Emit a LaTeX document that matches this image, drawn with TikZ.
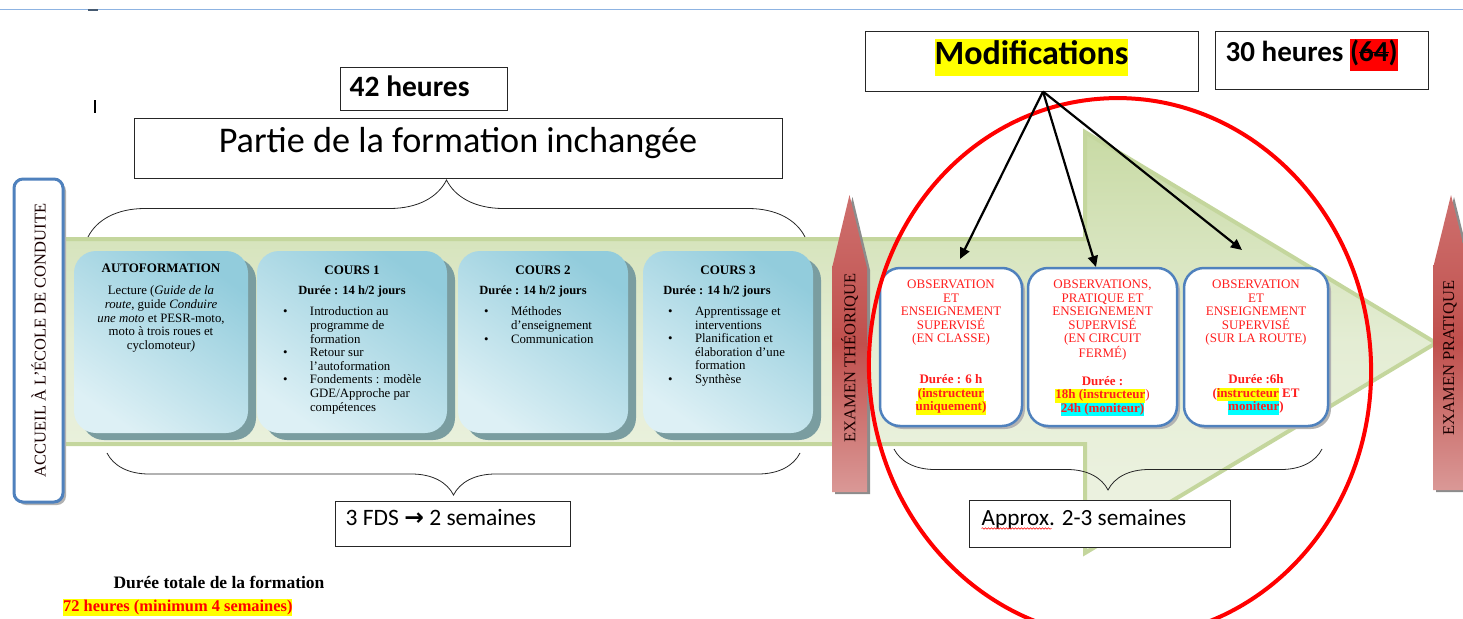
\documentclass[tikz,border=0pt]{standalone}
\usepackage{fontspec}
\setmainfont{Liberation Serif}
\newfontfamily\calibri{Carlito}
\newfontfamily\symfont{DejaVu Sans}
\usetikzlibrary{positioning,shadows,arrows.meta,decorations.pathreplacing,decorations.pathmorphing}
\definecolor{lineblue}{RGB}{141,179,226}
\definecolor{frameblue}{RGB}{79,129,189}
\definecolor{celldark}{RGB}{146,204,220}
\definecolor{celllight}{RGB}{221,240,245}
\definecolor{cellshadow}{RGB}{122,157,160}
\definecolor{greentop}{RGB}{200,218,164}
\definecolor{greenmid}{RGB}{228,237,212}
\definecolor{greenbot}{RGB}{238,243,227}
\definecolor{greenedge}{RGB}{196,214,157}
\definecolor{examtop}{RGB}{206,112,110}
\definecolor{exammid}{RGB}{192,80,77}
\definecolor{exambot}{RGB}{218,152,150}
\definecolor{obsred}{RGB}{255,30,30}
\definecolor{hlyellow}{RGB}{255,255,0}
\definecolor{hlcyan}{RGB}{0,255,255}
\definecolor{hlred}{RGB}{255,0,0}
\newcommand\hly[1]{{\setlength\fboxsep{0pt}\colorbox{hlyellow}{\strut #1}}}
\newcommand\hlc[1]{{\setlength\fboxsep{0pt}\colorbox{hlcyan}{\strut #1}}}
\newcommand\bul{\makebox[27pt][l]{•}}
\newcommand\ind{\makebox[27pt]{}}
\newcommand\strk[1]{\setbox0\hbox{#1}\rlap{\rule[0.3em]{\wd0}{1.3pt}}\box0}
\begin{document}
\begin{tikzpicture}[x=1pt,y=1pt]
\tikzstyle{every node}+=[inner sep=0pt]
\tikzstyle{cell}=[rounded corners=22pt, minimum height=182pt, top color=celldark, bottom color=celllight, shading angle=-35, drop shadow={shadow xshift=8pt, shadow yshift=-7pt, fill=cellshadow, opacity=1}]
\tikzstyle{celltitle}=[font=\bfseries\fontsize{13}{14}\selectfont]
\tikzstyle{celldur}=[font=\bfseries\fontsize{12.5}{14}\selectfont]
\tikzstyle{cellbody}=[font=\fontsize{12.8}{13.6}\selectfont]
\tikzstyle{frame}=[draw=frameblue, line width=3pt, fill=white, drop shadow={shadow xshift=3pt, shadow yshift=-3pt, fill=black!30, opacity=1}]
\tikzstyle{obsbox}=[frame, line width=2.5pt, rounded corners=20pt, minimum height=158pt]
\tikzstyle{obstext}=[font=\fontsize{13}{13.6}\selectfont, text=obsred, align=center]
\tikzstyle{examtext}=[font=\fontsize{16.5}{18}\selectfont, text=black!90!red, rotate=90]
\tikzstyle{examshape}=[top color=examtop, bottom color=exambot, middle color=exammid, drop shadow={shadow xshift=3pt, shadow yshift=-2pt, fill=black!45, opacity=1}]
\tikzstyle{tbox}=[draw=black!85, line width=1pt, fill=white]
\tikzstyle{curly}=[draw=black!85, line width=0.8pt, decorate]
\tikzstyle{modarrow}=[line width=2.2pt, -{Triangle[length=11pt,width=10pt]}]
\useasboundingbox (0,0) rectangle (1463,-618);
\draw [lineblue, line width=1pt] (0,-10) -- (1463,-10);
\draw [black!50!lineblue, line width=1.5pt] (88,-10) -- (98,-10);
\draw [line width=1.2pt] (95,-100) -- (95,-113);
\draw [greenedge, line width=4pt, top color=greentop, bottom color=greenbot, middle color=greenmid] (60,-239) -- (1085,-239) -- (1085,-132) -- (1436,-343) -- (1085,-553) -- (1085,-444) -- (60,-444) -- cycle;
\draw [curly, decoration={brace, amplitude=57pt}] (88,-237) -- (805,-237);
\draw [curly, decoration={brace, amplitude=42pt}] (800,-453) -- (107,-453);
\draw [curly, decoration={brace, amplitude=41pt}] (1322,-449) -- (894,-449);
\node [frame, rounded corners=9pt, minimum width=49pt, minimum height=323pt] (accueil) at (38.5,-340.5) {};
\node [examtext] (accueiltxt) at (accueil) {ACCUEIL À L’ÉCOLE DE CONDUITE};
\node [cell, minimum width=174pt] (auto) at (161,-342) {};
\node [cell, minimum width=190pt] (cours1) at (352,-342) {};
\node [cell, minimum width=170pt] (cours2) at (543,-342) {};
\node [cell, minimum width=170pt] (cours3) at (728,-342) {};
\node [celltitle, anchor=base] (autotitle) at ([yshift=-22pt]auto.north) {AUTOFORMATION};
\node [cellbody, anchor=north, align=center] (autobody) at ([yshift=-35pt]auto.north) {Lecture (\textit{Guide de la}\\\textit{route}, guide \textit{Conduire}\\\textit{une moto} et PESR-moto,\\moto à trois roues et\\cyclomoteur\textit{)}};
\node [celltitle, anchor=base] (c1title) at ([yshift=-24pt]cours1.north) {COURS 1};
\node [celldur, anchor=base] (c1dur) at ([yshift=-44pt]cours1.north) {Durée : 14 h/2 jours};
\node [cellbody, anchor=north west, align=left] (c1list) at ([xshift=26pt,yshift=-56pt]cours1.north west) {\bul Introduction au\\\ind programme de\\\ind formation\\\bul Retour sur\\\ind l’autoformation\\\bul Fondements : modèle\\\ind GDE/Approche par\\\ind compétences};
\node [celltitle, anchor=base] (c2title) at ([yshift=-24pt]cours2.north) {COURS 2};
\node [celldur, anchor=base] (c2dur) at ([xshift=-10pt,yshift=-44pt]cours2.north) {Durée : 14 h/2 jours};
\node [cellbody, anchor=north west, align=left] (c2list) at ([xshift=26pt,yshift=-56pt]cours2.north west) {\bul Méthodes\\\ind d’enseignement\\\bul Communication};
\node [celltitle, anchor=base] (c3title) at ([yshift=-24pt]cours3.north) {COURS 3};
\node [celldur, anchor=base] (c3dur) at ([xshift=-11pt,yshift=-44pt]cours3.north) {Durée : 14 h/2 jours};
\node [cellbody, anchor=north west, align=left] (c3list) at ([xshift=25pt,yshift=-56pt]cours3.north west) {\bul Apprentissage et\\\ind interventions\\\bul Planification et\\\ind élaboration d’une\\\ind formation\\\bul Synthèse};
\path [examshape] (832,-492) -- (832,-268) -- (849.5,-195) -- (867,-268) -- (867,-492) -- cycle;
\node [examtext] (theory) at (849.5,-358) {EXAMEN THÉORIQUE};
\path [examshape] (1433,-490) -- (1433,-268) -- (1451,-195) -- (1469,-268) -- (1469,-490) -- cycle;
\node [examtext] (practice) at (1450,-358) {EXAMEN PRATIQUE};
\node [obsbox, minimum width=142pt] (obs1) at (951,-347) {};
\node [obsbox, minimum width=149pt] (obs2) at (1102.5,-347) {};
\node [obsbox, minimum width=144pt] (obs3) at (1256,-347) {};
\node [obstext, anchor=north] (obs1txt) at ([yshift=-13pt]obs1.north) {OBSERVATION\\ET\\ENSEIGNEMENT\\SUPERVISÉ\\(EN CLASSE)\\[27.2pt]\textbf{Durée : 6 h}\\\textbf{\hly{(instructeur}}\\\textbf{\hly{uniquement)}}};
\node [obstext, anchor=north] (obs2txt) at ([yshift=-13pt]obs2.north) {OBSERVATIONS,\\PRATIQUE ET\\ENSEIGNEMENT\\SUPERVISÉ\\(EN CIRCUIT\\FERMÉ)\\[13.6pt]\textbf{Durée :}\\\textbf{\hly{18h (instructeur}})\\\textbf{\hlc{24h (moniteur)}}};
\node [obstext, anchor=north] (obs3txt) at ([yshift=-13pt]obs3.north) {OBSERVATION\\ET\\ENSEIGNEMENT\\SUPERVISÉ\\(SUR LA ROUTE)\\[27.2pt]\textbf{Durée :6h}\\\textbf{(\hly{instructeur} ET}\\\textbf{\hlc{moniteur})}};
\draw [red, line width=4pt, rotate around={4:(1120,-368)}] (1120,-368) ellipse [x radius=251, y radius=270];
\node [tbox, minimum width=167pt, minimum height=43pt] (h42) at (423.5,-88.5) {};
\node [anchor=base west, font=\calibri\bfseries\fontsize{29.5}{34}\selectfont] (h42txt) at ([xshift=10pt,yshift=-30pt]h42.north west) {42 heures};
\node [tbox, minimum width=648pt, minimum height=60pt] (partie) at (458,-148) {};
\node [anchor=base, font=\calibri\fontsize{36.2}{42}\selectfont] (partietxt) at ([yshift=-35pt]partie.north) {Partie de la formation inchangée};
\node [tbox, minimum width=333pt, minimum height=59pt] (modif) at (1031.5,-61.5) {};
\node [anchor=base, font=\calibri\bfseries\fontsize{34}{37}\selectfont] (modiftxt) at ([yshift=-33pt]modif.north) {\hly{Modifications}};
\node [tbox, minimum width=213pt, minimum height=57pt] (h30) at (1321.5,-60.5) {};
\node [anchor=base west, font=\calibri\bfseries\fontsize{29}{32}\selectfont] (h30txt) at ([xshift=11pt,yshift=-30pt]h30.north west) {30 heures {\setlength\fboxsep{0pt}\colorbox{hlred}{\strut(\strk{64})}}};
\node [tbox, minimum width=235pt, minimum height=45pt] (fds) at (452.5,-523.5) {};
\node [anchor=base west, font=\calibri\fontsize{23.5}{26}\selectfont] (fdstxt) at ([xshift=11pt,yshift=-25pt]fds.north west) {3 FDS {\symfont\bfseries →} 2 semaines};
\node [tbox, minimum width=261pt, minimum height=47pt] (approx) at (1099.5,-523.5) {};
\node [anchor=base west, font=\calibri\fontsize{23.2}{26}\selectfont] (approxtxt) at ([xshift=13pt,yshift=-26pt]approx.north west) {Approx. 2-3 semaines};
\draw [red, line width=0.5pt, decorate, decoration={snake, amplitude=0.8pt, segment length=3pt}] ([yshift=-3pt]approxtxt.base west) -- ++(70,0);
\node [anchor=base, font=\bfseries\fontsize{17.5}{20}\selectfont] (total) at (219,-588) {Durée totale de la formation};
\node [anchor=base west, font=\bfseries\fontsize{16.4}{17}\selectfont, text=red] (totalh) at (63,-611) {\hly{72 heures (minimum 4 semaines)}};
\coordinate (fork) at ([xshift=11.5pt]modif.south);
\coordinate (tip1) at (960,-259);
\coordinate (tip2) at (1096,-267);
\coordinate (tip3) at (1242,-250);
\draw [modarrow] (fork) -- (tip1);
\draw [modarrow] (fork) -- (tip2);
\draw [modarrow] (fork) -- (tip3);
\end{tikzpicture}
\end{document}
